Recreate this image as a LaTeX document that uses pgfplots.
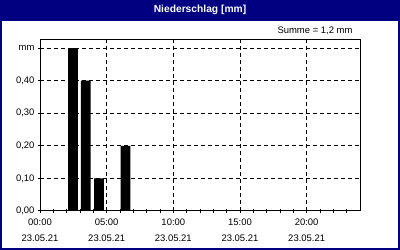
\documentclass[border=0pt]{standalone}
\usepackage{fontspec}
\setmainfont{Liberation Sans}
\usepackage{pgfplots}
\pgfplotsset{compat=1.18}
\definecolor{navyblue}{RGB}{0,0,128}
\begin{document}
\begin{tikzpicture}[x=1bp,y=1bp]
\fill[navyblue] (0,0) rectangle (400,250);
\fill[white] (2,2) rectangle (398,229.3);
\node[white,font=\fontsize{10.3}{12}\selectfont\bfseries] at (200,240) {Niederschlag [mm]};
\node[anchor=east,font=\fontsize{9.5}{11}\selectfont] at (356,219) {Summe = 1,2 mm};
\begin{axis}[
  at={(40bp,39bp)}, anchor=south west, scale only axis,
  width=320bp, height=171bp,
  xmin=0, xmax=24, ymin=0, ymax=0.525,
  ybar, bar width=0.73,
  axis line style={black, line width=1bp},
  tick pos=left,
  tick align=center,
  major tick length=4bp, minor tick length=4bp,
  tick style={black, line width=1bp},
  xtick={0,5,10,15,20},
  xticklabels={{00:00\\23.05.21},{05:00\\23.05.21},{10:00\\23.05.21},{15:00\\23.05.21},{20:00\\23.05.21}},
  minor xtick={1,2,3,4,6,7,8,9,11,12,13,14,16,17,18,19,21,22,23},
  xticklabel style={align=center, font=\fontsize{9.5}{16}\selectfont, yshift=-2.5bp},
  ytick={0,0.1,0.2,0.3,0.4,0.5},
  yticklabels={{0,00},{0,10},{0,20},{0,30},{0,40},{mm}},
  yticklabel style={font=\fontsize{9.5}{11}\selectfont},
  xmajorgrids, ymajorgrids,
  major grid style={black, line width=1bp, dash pattern=on 4bp off 3bp},
]
\addplot[fill=black, draw=none] coordinates {(2.47,0.5) (3.43,0.4) (4.42,0.1) (6.41,0.2)};
\end{axis}
\pgfresetboundingbox
\path[use as bounding box] (0,0) rectangle (400,250);
\end{tikzpicture}
\end{document}
